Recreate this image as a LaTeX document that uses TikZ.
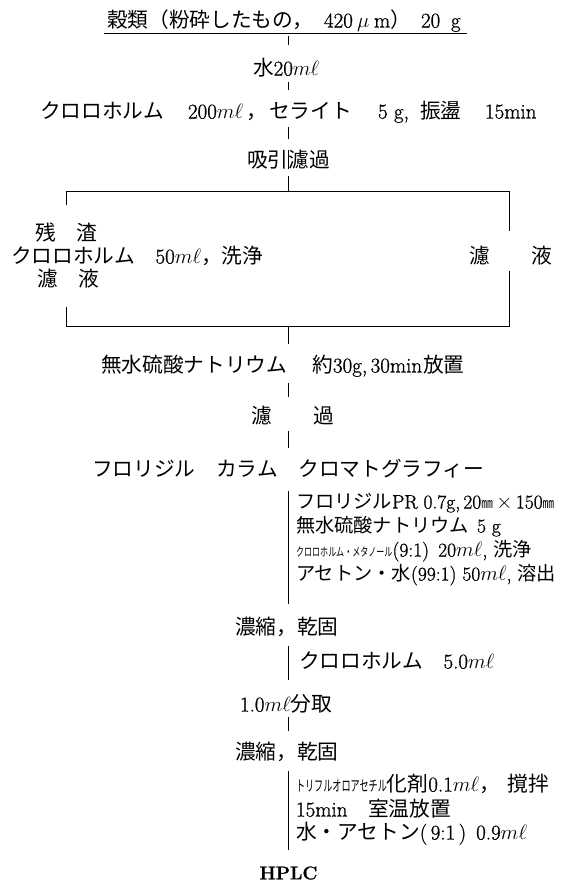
\documentclass[tikz,border=0pt]{standalone}
\usepackage{fontspec}
\usepackage{graphicx}
\setmainfont{Latin Modern Roman}[FakeBold=1]
\newfontfamily\jp{Noto Sans CJK JP}[Scale=0.986]
\newcommand\J[1]{{\jp #1}}
\newcommand\ml{$m\ell$}
\newcommand\sqa[1]{\scalebox{0.42}[0.62]{\jp #1}}
\newcommand\sqb[1]{\scalebox{0.44}[0.72]{\jp #1}}
\newcommand\mmu{\scalebox{0.6}[0.75]{\jp ㎜}}
\begin{document}
\begin{tikzpicture}[x=1pt,y=-1pt,
  txt/.style={anchor=base west,inner sep=0pt,outer sep=0pt,font=\fontsize{21}{25}\selectfont},
  blk/.style={txt,font=\fontsize{19.5}{23}\selectfont},
  flow/.style={line width=0.7pt,black}]
\useasboundingbox (0,0) rectangle (569,884);

% title
\node[txt] (t1a) at (107,27.5) {\J{穀類（粉砕したもの，}};
\node[txt] (t1b) at (324,27.5) {420};
\node[txt] (t1c) at (357,27.5) {$\mu$};
\node[txt] (t1d) at (374,27.5) {m};
\node[txt] (t1e) at (390,27.5) {\J{）}};
\node[txt] (t1f) at (421,27.5) {20};
\node[txt] (t1g) at (451,27.5) {g};
% water
\node[txt] (t2) at (253,75.5) {\J{水}20\ml};
% row 3
\node[txt] (t3a) at (40,118.5) {\J{クロロホルム}};
\node[txt] (t3b) at (188,118.5) {200\ml};
\node[txt] (t3c) at (246,118.5) {\J{，}};
\node[txt] (t3d) at (269,118.5) {\J{セライト}};
\node[txt] (t3e) at (378,118.5) {5 g,};
\node[txt] (t3f) at (420,118.5) {\J{振盪}};
\node[txt] (t3g) at (485,118.5) {15min};
% filtration
\node[txt] (t4) at (247,167.5) {\J{吸引濾過}};
\node[txt] (r1) at (35,240.5) {\J{残　渣}};
\node[txt] (r2) at (11,263.5) {\J{クロロホルム　}50\ml\J{，洗浄}};
\node[txt] (r3) at (37,286.5) {\J{濾　液}};
\node[txt] (f1) at (469,263.5) {\J{濾　　液}};
% sodium sulfate
\node[txt] (t5a) at (101,372.5) {\J{無水硫酸ナトリウム}};
\node[txt] (t5b) at (312,372.5) {\J{約}};
\node[txt] (t5c) at (333,372.5) {30g,\,30min};
\node[txt] (t5d) at (423,372.5) {\J{放置}};
\node[txt] (t6) at (251,423.5) {\J{濾　　過}};
\node[txt] (t7) at (92,476.5) {\J{フロリジル　カラム　クロマトグラフィー}};
% column block
\node[blk] (b1) at (296,508.5) {\J{フロリジル}PR 0.7g,\,20\mmu$\,\times\,$150\mmu};
\node[blk] (b2) at (296,532.5) {\J{無水硫酸ナトリウム}\hspace{8pt}5 g};
\node[blk] (b3) at (296,556.5) {\sqa{クロロホルム・メタノール}(9:1)\, 20\ml, \J{洗浄}};
\node[blk] (b4) at (296,580.5) {\J{アセトン・水}(99:1) 50\ml, \J{溶出}};
\node[txt] (t8) at (235,634.5) {\J{濃縮，乾固}};
\node[txt] (c1) at (299,668.5) {\J{クロロホルム　}5.0\ml};
\node[txt] (t9) at (240,711.5) {1.0\ml\J{分取}};
\node[txt] (t10) at (235,759.5) {\J{濃縮，乾固}};
\node[txt] (d1) at (296,791.5) {\sqb{トリフルオロアセチル}\J{化剤}0.1\ml\J{，}\hspace{8pt}\J{撹拌}};
\node[txt] (d2) at (296,816.5) {15min\J{　室温放置}};
\node[txt] (d3) at (296,839.5) {\J{水・アセトン}(\,9:1\,)\hspace{10pt}0.9\ml};
\node[inner sep=0pt,font=\fontsize{18.5}{21}\selectfont\bfseries] (hp) at (288.5,873) {HPLC};

% underline of title
\coordinate (u1) at (104,33);
\coordinate (u2) at (467,33);
\draw[flow] (u1) -- (u2);

% main flow line pieces
\foreach \n/\a/\b in {a/36/45, b/82/90, c/127/139, d/150/169, e/176/191,
                      f/326/344, g/383/397, h/431/448, i/491/604,
                      j/646/680, k/717/731, l/771/850}{
  \coordinate (\n1) at (288.5,\a);
  \coordinate (\n2) at (288.5,\b);
  \draw[flow] (\n1) -- (\n2);
}

% bracket
\coordinate (tl) at (66,191);
\coordinate (tr) at (509,191);
\coordinate (bl) at (66,326);
\coordinate (br) at (509,326);
\coordinate (lt) at (66,205);
\coordinate (lb) at (66,307);
\coordinate (rt) at (509,231);
\coordinate (rb) at (509,271);
\draw[flow] (lt) -- (tl) -- (tr) -- (rt);
\draw[flow] (lb) -- (bl) -- (br) -- (rb);
\end{tikzpicture}
\end{document}
